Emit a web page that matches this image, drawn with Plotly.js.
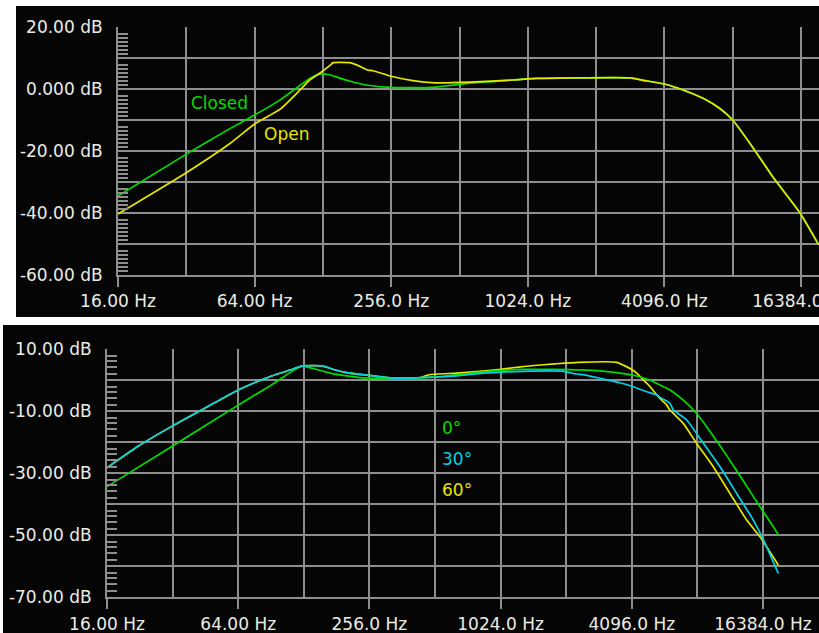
<!DOCTYPE html>
<html><head><meta charset="utf-8">
<script src="https://cdn.plot.ly/plotly-3.0.1.min.js"></script>
<style>body{margin:0;background:#fff}</style></head>
<body><div id="chart" style="width:819px;height:633px"></div>
<script>
// ---------- data: top panel (Closed / Open) ----------
const closedFreq = [16, 32, 50, 64, 83, 112, 124, 137, 152, 169, 202, 253, 391, 553, 719, 1122, 1739, 2888, 3300, 4096, 4944, 6063, 7190, 8192, 10080, 12320, 16220, 19617];
const closedDb   = [-34.5, -21, -12.7, -8.4, -3.5, 3.4, 4.8, 4.6, 3.5, 2.5, 1.2, 0.5, 0.5, 1.8, 2.4, 3.4, 3.6, 3.6, 2.8, 1.6, -0.3, -3.0, -6.3, -10.0, -19.0, -28.4, -40.0, -50.3];
const openFreq = [16, 32, 50, 64, 83, 101.5, 112, 124, 138, 142, 168, 181, 202, 213, 253, 319, 399, 570, 881, 1125, 1739, 2888, 3300, 4096, 4944, 6063, 7190, 8192, 10080, 12320, 16220, 19617];
const openDb   = [-40.3, -27, -17.5, -11.3, -6.5, -0.3, 2.9, 5.1, 7.7, 8.5, 8.5, 7.7, 6.1, 5.9, 4.2, 2.7, 2.0, 2.2, 2.9, 3.4, 3.6, 3.6, 2.8, 1.6, -0.3, -3.0, -6.3, -10.0, -19.0, -28.4, -40.0, -50.3];

// ---------- data: bottom panel (0° / 30° / 60°) ----------
const deg0Freq = [16, 32, 64, 91, 112.6, 125, 127, 147, 169, 201, 249, 393, 521, 982, 1257, 1800, 2827, 3616, 4314, 4961, 5518, 6131, 7056, 8131, 9360, 11170, 13309, 15870, 18270, 19258];
const deg0Db   = [-34.3, -21.2, -8.0, -1.5, 2.8, 4.6, 4.6, 3.5, 2.3, 1.4, 0.7, 0.7, 1.1, 3.1, 3.5, 3.5, 3.1, 2.3, 1.4, 0.0, -1.5, -3.1, -6.4, -10.7, -16.5, -24.3, -32.5, -40.8, -47.2, -49.9];
const deg30Freq = [16, 22.3, 32, 45, 64, 91.2, 112.6, 125, 157, 175, 201, 232, 267, 318, 521, 644, 853, 1300, 2000, 2200, 2544, 3032, 3616, 4160, 4795, 5330, 5518, 6131, 6352, 7317, 8720, 10400, 12410, 14790, 17030, 19258];
const deg30Db   = [-28.2, -21.2, -14.7, -9.0, -3.1, 1.4, 3.5, 4.6, 4.6, 3.5, 2.5, 1.9, 1.4, 0.8, 1.0, 1.4, 2.3, 2.9, 2.9, 2.2, 1.6, 0.4, -0.8, -2.1, -3.7, -4.7, -5.5, -7.4, -9.6, -12.8, -20.3, -27.9, -36.5, -45.1, -53.7, -62.3];
const deg60Freq = [16, 22.3, 32, 45, 64, 91.2, 112.6, 125, 157, 175, 201, 232, 267, 318, 440, 480, 644, 796, 1018, 1214, 1422, 1819, 2327, 3493, 3744, 4091, 4314, 4624, 4961, 5330, 5713, 5923, 6131, 7056, 8131, 9691, 11562, 13797, 15870, 19258];
const deg60Db   = [-28.2, -21.2, -14.7, -9.0, -3.1, 1.4, 3.5, 4.6, 4.6, 3.5, 2.5, 1.9, 1.4, 0.8, 0.9, 1.8, 2.3, 2.8, 3.5, 4.2, 4.7, 5.3, 5.8, 5.8, 4.9, 3.5, 2.3, 0.1, -2.0, -4.7, -6.9, -8.0, -9.6, -13.9, -20.4, -27.9, -36.5, -45.1, -50.5, -59.6];

// ---------- tick labels ----------
const xLabelVals = [16, 64, 256, 1024, 4096, 16384];
const xLabelText = ['16.00 Hz', '64.00 Hz', '256.0 Hz', '1024.0 Hz', '4096.0 Hz', '16384.0 Hz'];
const xGridOdd   = [32, 128, 512, 2048, 8192];
const topYVals = [20, 10, 0, -10, -20, -30, -40, -50, -60];
const topYText = ['20.00 dB', '', '0.000 dB', '', '-20.00 dB', '', '-40.00 dB', '', '-60.00 dB'];
const botYVals = [10, 0, -10, -20, -30, -40, -50, -60, -70];
const botYText = ['10.00 dB', '', '-10.00 dB', '', '-30.00 dB', '', '-50.00 dB', '', '-70.00 dB'];

// ---------- styling ----------
const W = 819, H = 633;
const GREEN = '#00dc00', YELLOW = '#e6e600', CYAN = '#00d2e6';
const GRID = '#8e8e8e', TXT = '#ecece4';
const FONT = {family: 'DejaVu Sans, Verdana, sans-serif', size: 17, color: TXT};
const px = v => v / W, py = v => 1 - v / H;

function minorTicks(vals, offs) {
  const out = [];
  for (let i = 0; i < vals.length - 1; i++) offs.forEach(o => out.push(vals[i] - o));
  return out;
}

function xAxis(domain, rng, anchor) {
  return {
    type: 'log', domain: domain, range: rng, anchor: anchor,
    tickmode: 'array', tickvals: xLabelVals, ticktext: xLabelText,
    ticks: 'outside', ticklen: 10, tickwidth: 2, tickcolor: GRID,
    showgrid: true, gridcolor: GRID, gridwidth: 2,
    minor: {tickmode: 'array', tickvals: xGridOdd, showgrid: true, gridcolor: GRID, gridwidth: 2, ticks: ''},
    showline: true, linecolor: GRID, linewidth: 2, mirror: false,
    tickfont: FONT, ticklabeloverflow: 'allow', zeroline: false, fixedrange: true
  };
}
function yAxis(domain, rng, anchor, vals, text, minorVals) {
  return {
    domain: domain, range: rng, anchor: anchor,
    tickmode: 'array', tickvals: vals, ticktext: text, ticks: '',
    showgrid: true, gridcolor: GRID, gridwidth: 2,
    minor: {tickmode: 'array', tickvals: minorVals, ticks: 'inside', ticklen: 10, tickwidth: 2, tickcolor: GRID, showgrid: false},
    showline: true, linecolor: GRID, linewidth: 2,
    tickfont: FONT, ticklabelstandoff: 10, ticklabeloverflow: 'allow', zeroline: false, fixedrange: true
  };
}

const line = (x, y, c, xa, ya) => ({x: x, y: y, type: 'scatter', mode: 'lines', xaxis: xa, yaxis: ya,
  line: {color: c, width: 1.7, shape: 'spline', smoothing: 0.5}, hoverinfo: 'skip', showlegend: false});

const traces = [
  line(closedFreq, closedDb, GREEN, 'x', 'y'),
  line(openFreq, openDb, YELLOW, 'x', 'y'),
  line(deg60Freq, deg60Db, YELLOW, 'x2', 'y2'),
  line(deg0Freq, deg0Db, GREEN, 'x2', 'y2'),
  line(deg30Freq, deg30Db, CYAN, 'x2', 'y2')
];

const topXEnd = Math.log10(16 * Math.pow(2, (819 - 118) / 68.3));
const botXEnd = Math.log10(16 * Math.pow(2, (819 - 107) / 65.6));

const lbl = (text, x, y, c) => ({text: text, xref: 'paper', yref: 'paper', x: px(x), y: py(y),
  xanchor: 'left', yanchor: 'middle', showarrow: false, font: {family: FONT.family, size: 17, color: c}});

const layout = {
  width: W, height: H, margin: {l: 0, r: 0, t: 0, b: 0},
  paper_bgcolor: '#ffffff', plot_bgcolor: '#050505', showlegend: false,
  xaxis: xAxis([px(118), 1], [Math.log10(16), topXEnd], 'y'),
  yaxis: yAxis([py(275), py(27)], [-60, 20], 'x', topYVals, topYText,
               minorTicks(topYVals, [2.2, 3.5, 4.8, 6.0, 7.3, 8.6])),
  xaxis2: xAxis([px(107), 1], [Math.log10(16), botXEnd], 'y2'),
  yaxis2: yAxis([py(597.3), py(349.3)], [-70, 10], 'x2', botYVals, botYText,
                minorTicks(botYVals, [2.0, 3.8, 5.7, 8.0])),
  shapes: [
    {type: 'rect', xref: 'paper', yref: 'paper', x0: px(16), x1: 1, y0: py(317), y1: py(6),
     fillcolor: '#050505', line: {width: 0}, layer: 'below'},
    {type: 'rect', xref: 'paper', yref: 'paper', x0: px(3), x1: 1, y0: 0, y1: py(325),
     fillcolor: '#050505', line: {width: 0}, layer: 'below'}
  ],
  annotations: [
    lbl('Closed', 189, 103.5, GREEN),
    lbl('Open', 262, 133.5, YELLOW),
    lbl('0°', 440, 428, GREEN),
    lbl('30°', 440, 458.5, CYAN),
    lbl('60°', 440, 490, YELLOW)
  ]
};

Plotly.newPlot('chart', traces, layout, {staticPlot: true, displayModeBar: false});
</script></body></html>
